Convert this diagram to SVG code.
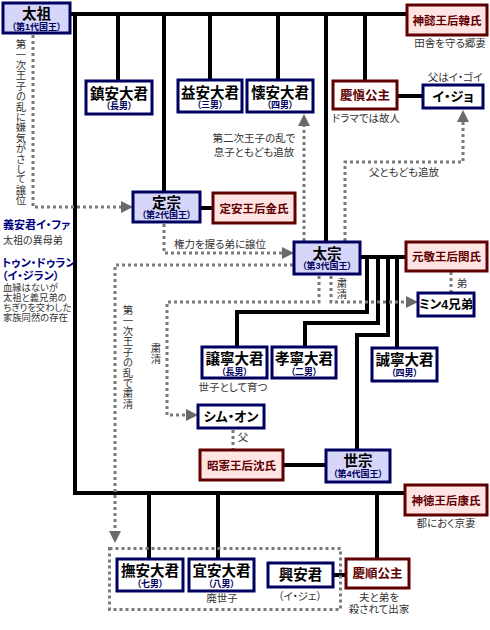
<svg xmlns="http://www.w3.org/2000/svg" width="490" height="630" viewBox="0 0 490 630">
<style>
text{font-family:"Liberation Sans","Noto Sans CJK JP",sans-serif;font-feature-settings:"palt"}
.blk{stroke:#000;stroke-width:4;fill:none}
.dot{stroke:#7a7a7a;stroke-width:3;stroke-dasharray:3 3;fill:none}
.bb{fill:#d6d6fa;stroke:#000060;stroke-width:3}
.wb{fill:#fff;stroke:#000060;stroke-width:3}
.rb{fill:#ffe4e4;stroke:#600000;stroke-width:3}
.rw{fill:#fff;stroke:#600000;stroke-width:3}
.nm{font-size:14.5px;font-weight:bold;text-anchor:middle;fill:#000}
.sm{font-size:13px;font-weight:bold;text-anchor:middle;fill:#000}
.sub{font-size:9px;font-weight:bold;text-anchor:middle;fill:#000060}
.rn{font-size:11.5px;font-weight:bold;text-anchor:middle;fill:#600000}
.note{font-size:10.5px;fill:#333;text-anchor:middle}
.nl{font-size:9.3px;fill:#333}
.nv{font-size:11px;font-weight:bold;fill:#000080}
.vt{font-size:10.4px;fill:#333;writing-mode:vertical-rl;font-feature-settings:normal}
</style>
<defs>
<marker id="ar" markerUnits="userSpaceOnUse" markerWidth="12" markerHeight="12" refX="0" refY="6" orient="auto">
<path d="M0,0 L12,6 L0,12 z" fill="#6a6a6a"/>
</marker>
</defs>
<g id="connectors">
<path class="blk" d="M70,14 H407"/>
<path class="blk" d="M75,14 V493 H405"/>
<path class="blk" d="M118,14 V81"/>
<path class="blk" d="M164,14 V192"/>
<path class="blk" d="M210,14 V80"/>
<path class="blk" d="M278,14 V80"/>
<path class="blk" d="M326,14 V242"/>
<path class="blk" d="M365,14 V81"/>
<path class="blk" d="M397,96 H423"/>
<path class="blk" d="M200,208 H213"/>
<path class="blk" d="M360,257 H406"/>
<path class="blk" d="M367,257 V312 H237 V347"/>
<path class="blk" d="M378,257 V323 H305 V347"/>
<path class="blk" d="M388,257 V335 H357 V450"/>
<path class="blk" d="M397,257 V348"/>
<path class="blk" d="M283,465 H326"/>
<path class="blk" d="M149,493 V559"/>
<path class="blk" d="M218,493 V559"/>
<path class="blk" d="M377,493 V559"/>
<path class="blk" d="M333,575 H346"/>
<path class="dot" d="M33,35 V207 H121" marker-end="url(#ar)"/>
<path class="dot" d="M164,224 V253 H282" marker-end="url(#ar)"/>
<path class="dot" d="M304,241 V126" marker-end="url(#ar)"/>
<path class="dot" d="M345,241 V162 H463 V122" marker-end="url(#ar)"/>
<path class="dot" d="M451,272 V293"/>
<path class="dot" d="M331,276 V302 H406" marker-end="url(#ar)"/>
<path class="dot" d="M319,276 V302 H167 V415 H186" marker-end="url(#ar)"/>
<path class="dot" d="M293,265 H115 V531" marker-end="url(#ar)"/>
<path class="dot" d="M233,430 V449"/>
<rect class="dot" x="109.5" y="548.5" width="231" height="61"/>
</g>
<g id="taejo"><rect class="bb" x="3" y="3" width="67" height="30"/><text class="nm" x="36.5" y="19">太祖</text><text class="sub" x="36.5" y="29.5">（第1代国王）</text></g>
<g id="sinui"><rect class="rb" x="407" y="5" width="80" height="30"/><text class="rn" x="447" y="24.5">神懿王后韓氏</text><text class="note" x="450" y="47">田舎を守る郷妻</text></g>
<g id="jinan"><rect class="wb" x="86" y="81" width="66" height="33"/><text class="nm" x="119" y="98.5">鎮安大君</text><text class="sub" x="119" y="109">（長男）</text></g>
<g id="ikan"><rect class="wb" x="178" y="80" width="64" height="32"/><text class="nm" x="210" y="97.5">益安大君</text><text class="sub" x="210" y="108">（三男）</text></g>
<g id="hoean"><rect class="wb" x="247" y="80" width="66" height="32"/><text class="nm" x="280" y="97.5">懐安大君</text><text class="sub" x="280" y="108">（四男）</text></g>
<g id="gyeongsin"><rect class="rw" x="333" y="81" width="64" height="28"/><text class="rn" x="365" y="99.5" style="font-size:12.5px">慶愼公主</text><text class="note" x="366" y="122">ドラマでは故人</text></g>
<g id="ijo"><rect class="wb" x="423" y="85" width="60" height="23"/><text class="sm" x="453" y="101">イ・ジョ</text><text class="note" x="455" y="81">父はイ・ゴイ</text></g>
<g id="jeongjong"><rect class="bb" x="133" y="192" width="67" height="30"/><text class="nm" x="166.5" y="208">定宗</text><text class="sub" x="166.5" y="218">（第2代国王）</text></g>
<g id="jeongan"><rect class="rb" x="213" y="193" width="82" height="30"/><text class="rn" x="254" y="212.5">定安王后金氏</text></g>
<g id="taejong"><rect class="bb" x="294" y="242" width="66" height="32"/><text class="nm" x="327" y="258.5">太宗</text><text class="sub" x="327" y="269">（第3代国王）</text></g>
<g id="wongyeong"><rect class="rb" x="406" y="242" width="81" height="29"/><text class="rn" x="446.5" y="261">元敬王后閔氏</text></g>
<g id="min"><rect class="wb" x="418" y="293" width="56" height="23"/><text class="sm" x="446" y="309" style="font-size:12.5px">ミン4兄弟</text></g>
<g id="yangnyeong"><rect class="wb" x="202" y="347" width="65" height="31"/><text class="nm" x="234.5" y="363.5">譲寧大君</text><text class="sub" x="234.5" y="374.5">（長男）</text><text class="note" x="233" y="391">世子として育つ</text></g>
<g id="hyoryeong"><rect class="wb" x="272" y="347" width="64" height="31"/><text class="nm" x="304" y="363.5">孝寧大君</text><text class="sub" x="304" y="374.5">（二男）</text></g>
<g id="seongnyeong"><rect class="wb" x="372" y="348" width="65" height="33"/><text class="nm" x="404.5" y="364.5">誠寧大君</text><text class="sub" x="404.5" y="376">（四男）</text></g>
<g id="simon"><rect class="wb" x="198" y="405" width="66" height="23"/><text class="sm" x="231" y="421">シム・オン</text></g>
<g id="soheon"><rect class="rb" x="200" y="450" width="83" height="30"/><text class="rn" x="241.5" y="469.5">昭憲王后沈氏</text></g>
<g id="sejong"><rect class="bb" x="326" y="450" width="64" height="32"/><text class="nm" x="358" y="466">世宗</text><text class="sub" x="358" y="477">（第4代国王）</text></g>
<g id="sindeok"><rect class="rb" x="405" y="485" width="82" height="30"/><text class="rn" x="446" y="504.5">神徳王后康氏</text><text class="note" x="446" y="527">都におく京妻</text></g>
<g id="muan"><rect class="wb" x="117" y="559" width="66" height="32"/><text class="nm" x="150" y="575.5">撫安大君</text><text class="sub" x="150" y="586.5">（七男）</text></g>
<g id="uian"><rect class="wb" x="189" y="559" width="65" height="32"/><text class="nm" x="221.5" y="575.5">宜安大君</text><text class="sub" x="221.5" y="586.5">（八男）</text><text class="note" x="222" y="602">廃世子</text></g>
<g id="heungan"><rect class="wb" x="268" y="563" width="65" height="24"/><text class="nm" x="300.5" y="580">興安君</text><text class="note" x="300" y="600">（イ・ジェ）</text></g>
<g id="gyeongsun"><rect class="rw" x="346" y="559" width="63" height="29"/><text class="rn" x="377.5" y="578" style="font-size:12.5px">慶順公主</text><text class="note" x="379" y="601">夫と弟を</text><text class="note" x="379" y="613">殺されて出家</text></g>
<g id="labels">
<text class="vt" x="20" y="39">第一次王子の乱に嫌気がさして譲位</text>
<text class="vt" x="127" y="305">第一次王子の乱で粛清</text>
<text class="vt" x="155" y="343">粛清</text>
<text class="vt" x="341" y="278">粛清</text>
<text class="note" x="254" y="142">第二次王子の乱で</text>
<text class="note" x="254" y="156">息子ともども追放</text>
<text class="note" x="404" y="176">父ともども追放</text>
<text class="note" x="220" y="248">権力を握る弟に譲位</text>
<text class="note" x="462" y="287">弟</text>
<text class="note" x="243" y="441">父</text>
<text class="nv" x="3" y="229">義安君イ・ファ</text>
<text class="nl" x="3" y="244" style="font-size:10px">太祖の異母弟</text>
<text class="nv" x="2" y="267">トゥン・ドゥラン</text>
<text class="nv" x="2" y="280">（イ・ジラン）</text>
<text class="nl" x="3" y="291">血縁はないが</text>
<text class="nl" x="3" y="301">太祖と義兄弟の</text>
<text class="nl" x="3" y="311">ちぎりを交わした</text>
<text class="nl" x="3" y="321">家族同然の存在</text>
</g>
</svg>
